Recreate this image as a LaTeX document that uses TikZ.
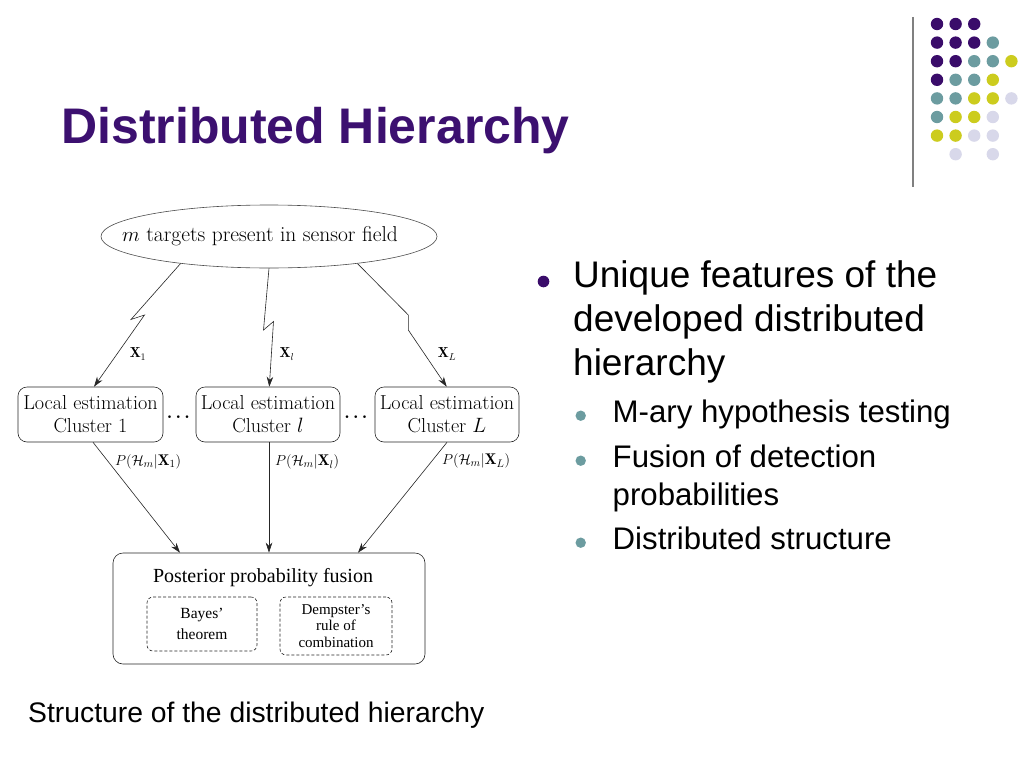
\documentclass[tikz,border=0pt]{standalone}
\usepackage{fontspec}
\usepackage{amsmath}
\newfontfamily\arial{Liberation Sans}
\newfontfamily\tms[Ligatures=TeX]{Liberation Serif}
\usetikzlibrary{shapes.geometric,arrows.meta,calc}
\definecolor{ttl}{HTML}{3C1070}
\definecolor{dpurp}{HTML}{3A0C6A}
\definecolor{dteal}{HTML}{6C9CA0}
\definecolor{dyel}{HTML}{CCCC1E}
\definecolor{dlav}{HTML}{D8D8EA}
\definecolor{rule}{HTML}{808080}
\tikzset{
  lbox/.style={draw=black!85, line width=0.6pt, rounded corners=9pt, minimum height=55pt, align=center, inner sep=0pt, font=\fontsize{20.2}{23}\selectfont},
  dbox/.style={draw=black!85, line width=0.6pt, dashed, dash pattern=on 3pt off 2pt, rounded corners=6pt, align=center, inner sep=0pt},
  conn/.style={draw=black!85, line width=0.6pt, -{Stealth[length=10pt,width=6.5pt]}},
  lab/.style={inner sep=0pt, font=\fontsize{15.5}{18}\selectfont},
  xlab/.style={inner sep=0pt, font=\fontsize{14.5}{17}\selectfont},
  bodytext/.style={inner sep=0pt, anchor=base west, font=\arial\fontsize{37}{44}\selectfont},
  subtext/.style={inner sep=0pt, anchor=base west, font=\arial\fontsize{31.2}{37}\selectfont},
  dotsnode/.style={inner sep=0pt, font=\fontsize{19}{22}\selectfont},
}
\begin{document}
\begin{tikzpicture}[x=1pt,y=-1pt]
\path[use as bounding box, fill=white] (0,0) rectangle (1024,768);

% decorative dots
\foreach \c/\r/\col in {0/0/dpurp,1/0/dpurp,2/0/dpurp,
  0/1/dpurp,1/1/dpurp,2/1/dpurp,3/1/dteal,
  0/2/dpurp,1/2/dpurp,2/2/dteal,3/2/dteal,4/2/dyel,
  0/3/dpurp,1/3/dteal,2/3/dteal,3/3/dyel,
  0/4/dteal,1/4/dteal,2/4/dyel,3/4/dyel,4/4/dlav,
  0/5/dteal,1/5/dyel,2/5/dyel,3/5/dlav,
  0/6/dyel,1/6/dyel,2/6/dlav,3/6/dlav,
  1/7/dlav,3/7/dlav}
  \fill[\col] ({937+18.6*\c},{24+18.6*\r}) circle (6.2);
\draw[rule, line width=2pt] (913,17) -- (913,187);

% title
\node[inner sep=0pt, anchor=base west, text=ttl, font=\arial\bfseries\fontsize{50}{60}\selectfont] (title) at (61,143) {Distributed Hierarchy};

% bullets
\fill[dpurp] (543.5,281.5) circle (5.8);
\node[bodytext] (b1) at (573,287) {Unique features of the};
\node[bodytext] (b2) at (573,331.5) {developed distributed};
\node[bodytext] (b3) at (573,375.5) {hierarchy};
\fill[dteal] (580.7,415.7) circle (5.2);
\fill[dteal] (580.7,460.7) circle (5.2);
\fill[dteal] (580.7,542.7) circle (5.2);
\node[subtext] (s1) at (612.5,422.7) {M-ary hypothesis testing};
\node[subtext] (s2) at (612.5,467) {Fusion of detection};
\node[subtext] (s3) at (612.5,505) {probabilities};
\node[subtext] (s4) at (612.5,549) {Distributed structure};

% caption
\node[inner sep=0pt, anchor=base west, font=\arial\fontsize{28.3}{34}\selectfont] (cap) at (28,722) {Structure of the distributed hierarchy};

% diagram
\node[draw=black!70, line width=0.6pt, ellipse, minimum width=336pt, minimum height=63pt, inner sep=0pt] (src) at (269,236.5) {};
\node[inner sep=0pt, font=\fontsize{21.5}{24}\selectfont] (srct) at ([xshift=-9pt]src.center) {$m$ targets present in sensor field};

\node[lbox, minimum width=145pt] (c1) at (90.5,414.5) {Local estimation\\Cluster 1};
\node[lbox, minimum width=144pt] (c2) at (268,414.5) {Local estimation\\Cluster $l$};
\node[lbox, minimum width=144pt] (c3) at (447,414.5) {Local estimation\\Cluster $L$};
\node[dotsnode] (dA) at (180,417) {$\boldsymbol{\cdots}$};
\node[dotsnode] (dB) at (357.5,417) {$\boldsymbol{\cdots}$};

\node[draw=black!85, line width=0.6pt, rounded corners=10pt, minimum width=312pt, minimum height=111pt, inner sep=0pt] (fus) at (269,608.5) {};
\node[inner sep=0pt, anchor=base, font=\tms\fontsize{20}{24}\selectfont] (fust) at (263,582) {Posterior probability fusion};
\node[dbox, minimum width=110pt, minimum height=54pt, font=\tms\fontsize{15.5}{21.5}\selectfont] (bay) at (202,624) {Bayes’\\theorem};
\node[dbox, minimum width=112pt, minimum height=58pt, font=\tms\fontsize{15}{16.5}\selectfont] (dem) at (336,626) {Dempster’s\\rule of\\combination};

% lightning connectors
\draw[conn] (src.197) -- (131,319.5) -- (144.5,315) -- ([xshift=3.5pt]c1.north);
\draw[conn] (src.south) -- (263.5,330) -- (273.5,321.5) -- ([xshift=1.3pt]c2.north);
\draw[conn] (src.-17) -- (408.3,315) -- (408.3,330) -- ([xshift=-0.3pt]c3.north);
\node[xlab] (x1) at (138,354) {$\mathbf{X}_1$};
\node[xlab] (xl) at (287,354) {$\mathbf{X}_l$};
\node[xlab] (xL) at (447,354) {$\mathbf{X}_L$};

% posterior connectors
\draw[conn] ([xshift=2.5pt]c1.south) -- ([xshift=-89pt]fus.north);
\draw[conn] ([xshift=1pt]c2.south) -- (fus.north);
\draw[conn] ([xshift=0pt]c3.south) -- ([xshift=89pt]fus.north);
\node[lab] (p1) at (148,462) {$P(\mathcal{H}_m|\mathbf{X}_1)$};
\node[lab] (pl) at (307,462) {$P(\mathcal{H}_m|\mathbf{X}_l)$};
\node[lab] (pL) at (476,461) {$P(\mathcal{H}_m|\mathbf{X}_L)$};
\end{tikzpicture}
\end{document}
